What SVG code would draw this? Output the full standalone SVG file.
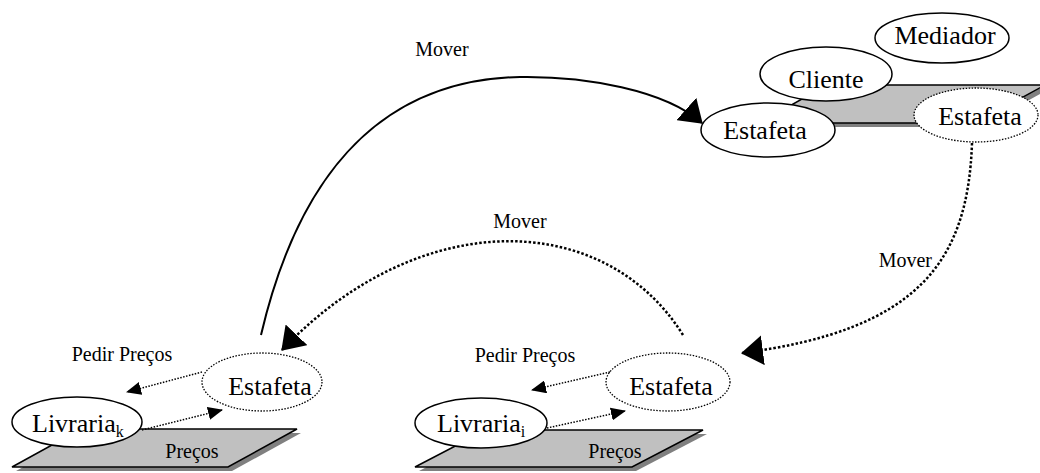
<svg xmlns="http://www.w3.org/2000/svg" width="1040" height="473" viewBox="0 0 1040 473">
<style>
.bg{fill:#ffffff}
.plane{fill:#c0c0c0;stroke:#000;stroke-width:1.5;stroke-linejoin:miter}
.shadow{fill:#808080;stroke:none}
.solid{fill:#fff;stroke:#000;stroke-width:1.5}
.dotted{fill:#fff;stroke:#000;stroke-width:1.3;stroke-dasharray:1.5 1.5}
.big{font-family:"Liberation Serif","Times New Roman",serif;font-size:26px;fill:#000}
.small{font-family:"Liberation Serif","Times New Roman",serif;font-size:20px;fill:#000}
.sub{font-size:16px}
.move{fill:none;stroke:#000;stroke-width:2}
.movedot{fill:none;stroke:#000;stroke-width:2.5;stroke-dasharray:2.5 2}
.ask{fill:none;stroke:#000;stroke-width:1.5;stroke-dasharray:1.5 1.5}
</style>
<defs>
<marker id="bigArrow" markerUnits="userSpaceOnUse" markerWidth="22" markerHeight="30" viewBox="0 0 22 30" refX="21" refY="15" orient="auto">
<path d="M0,0 L22,15 L0,30 z" fill="#000"/>
</marker>
<marker id="smallArrow" markerUnits="userSpaceOnUse" markerWidth="15" markerHeight="13" viewBox="0 0 15 13" refX="14" refY="6.5" orient="auto">
<path d="M0,0 L15,6.5 L0,13 z" fill="#000"/>
</marker>
</defs>
<rect class="bg" x="0" y="0" width="1040" height="473"/>

<g id="plane-cliente">
<polygon class="shadow" points="831,89 1049,89 980,127 763,127"/>
<polygon class="plane" points="827,85 1045,85 976,123 759,123"/>
</g>
<g id="plane-livraria-k">
<polygon class="shadow" points="85,433 301,433 232,471 16,471"/>
<polygon class="plane" points="81,429 297,429 228,467 12,467"/>
<text class="small" x="192" y="458" text-anchor="middle">Preços</text>
</g>
<g id="plane-livraria-i">
<polygon class="shadow" points="490,434 707,434 636,471 419,471"/>
<polygon class="plane" points="486,430 703,430 632,467 415,467"/>
<text class="small" x="615" y="458" text-anchor="middle">Preços</text>
</g>

<g id="node-mediador">
<ellipse class="solid" cx="942" cy="38" rx="67" ry="25"/>
<text class="big" x="945" y="44" text-anchor="middle">Mediador</text>
</g>
<g id="node-cliente">
<ellipse class="solid" cx="826" cy="74" rx="66" ry="27"/>
<text class="big" x="826" y="88" text-anchor="middle">Cliente</text>
</g>
<g id="node-estafeta-cliente">
<ellipse class="solid" cx="768" cy="130" rx="67" ry="27"/>
<text class="big" x="765" y="139" text-anchor="middle">Estafeta</text>
</g>
<g id="node-estafeta-cliente-out">
<ellipse class="dotted" cx="976" cy="115" rx="62" ry="27"/>
<text class="big" x="980" y="125" text-anchor="middle">Estafeta</text>
</g>

<g id="node-livraria-k">
<ellipse class="solid" cx="77" cy="422" rx="65" ry="25"/>
<text class="big" x="32" y="432">Livraria<tspan class="sub" dy="5">k</tspan></text>
</g>
<g id="node-estafeta-k">
<ellipse class="dotted" cx="262" cy="382" rx="60" ry="29"/>
<text class="big" x="270" y="395" text-anchor="middle">Estafeta</text>
</g>

<g id="node-livraria-i">
<ellipse class="solid" cx="481" cy="423" rx="66" ry="25"/>
<text class="big" x="437" y="432">Livraria<tspan class="sub" dy="5">i</tspan></text>
</g>
<g id="node-estafeta-i">
<ellipse class="dotted" cx="668" cy="382" rx="62" ry="29"/>
<text class="big" x="671" y="395" text-anchor="middle">Estafeta</text>
</g>

<g id="connectors">
<path class="move" d="M261,335 C295,190 370,80 520,77 C585,76 665,90 702,123" marker-end="url(#bigArrow)"/>
<text class="small" x="442" y="56" text-anchor="middle">Mover</text>

<path class="movedot" d="M683,335 C605,210 420,205 282,350" marker-end="url(#bigArrow)"/>
<text class="small" x="520" y="228" text-anchor="middle">Mover</text>

<path class="movedot" d="M972,143 C968,260 920,330 742,353" marker-end="url(#bigArrow)"/>
<text class="small" x="932" y="267" text-anchor="end">Mover</text>

<path class="ask" d="M202,372 L127,392" marker-end="url(#smallArrow)"/>
<path class="ask" d="M142,430 L222,410" marker-end="url(#smallArrow)"/>
<text class="small" x="122" y="361" text-anchor="middle">Pedir Preços</text>

<path class="ask" d="M610,372 L532,390" marker-end="url(#smallArrow)"/>
<path class="ask" d="M547,428 L625,411" marker-end="url(#smallArrow)"/>
<text class="small" x="525" y="362" text-anchor="middle">Pedir Preços</text>
</g>
</svg>
